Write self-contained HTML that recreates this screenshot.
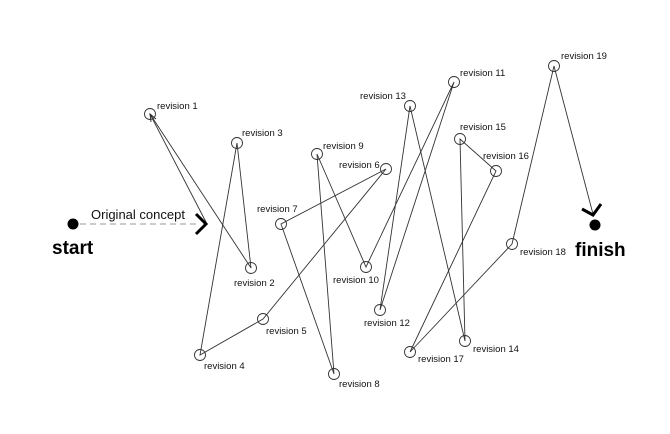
<!DOCTYPE html>
<html><head><style>
html,body{margin:0;padding:0;background:#fff;}
svg{display:block;font-family:"Liberation Sans",Arial,sans-serif;}
</style></head><body>
<svg width="670" height="434" viewBox="0 0 670 434">
<g stroke="#333" stroke-width="0.9" fill="none">
<polyline points="207,224 150,114"/>
<polyline points="150,114 251,268"/>
<polyline points="251,268 237,143 200,355 263,319 386,169 281,224 334,374 317,154 366,267 454,82 380,310 410,106 465,341 460,139 496,171 410,352 512,244 554,66 593,214"/>
<line x1="80" y1="224" x2="200" y2="224" stroke="#999" stroke-dasharray="6,4"/>
<polyline points="151,122 150,114 156,119" stroke="#222"/>
</g>
<g stroke="#333" stroke-width="0.9" fill="none">
<circle cx="150" cy="114" r="5.5"/><circle cx="251" cy="268" r="5.5"/><circle cx="237" cy="143" r="5.5"/>
<circle cx="200" cy="355" r="5.5"/><circle cx="263" cy="319" r="5.5"/><circle cx="386" cy="169" r="5.5"/>
<circle cx="281" cy="224" r="5.5"/><circle cx="334" cy="374" r="5.5"/><circle cx="317" cy="154" r="5.5"/>
<circle cx="366" cy="267" r="5.5"/><circle cx="454" cy="82" r="5.5"/><circle cx="380" cy="310" r="5.5"/>
<circle cx="410" cy="106" r="5.5"/><circle cx="465" cy="341" r="5.5"/><circle cx="460" cy="139" r="5.5"/>
<circle cx="496" cy="171" r="5.5"/><circle cx="410" cy="352" r="5.5"/><circle cx="512" cy="244" r="5.5"/>
<circle cx="554" cy="66" r="5.5"/>
</g>
<circle cx="73" cy="224" r="5.5" fill="#000"/>
<circle cx="595" cy="225" r="5.5" fill="#000"/>
<polyline points="196,214 206,224 196,234" stroke="#000" stroke-width="3" fill="none"/>
<polyline points="582,209 593,215 601,204" stroke="#000" stroke-width="3" fill="none"/>
<g font-size="9.5" fill="#111">
<text x="157" y="109">revision 1</text>
<text x="234" y="286">revision 2</text>
<text x="242" y="136">revision 3</text>
<text x="204" y="369">revision 4</text>
<text x="266" y="334">revision 5</text>
<text x="339" y="168">revision 6</text>
<text x="257" y="212">revision 7</text>
<text x="339" y="387">revision 8</text>
<text x="323" y="149">revision 9</text>
<text x="333" y="283">revision 10</text>
<text x="460" y="76">revision 11</text>
<text x="364" y="326">revision 12</text>
<text x="360" y="99">revision 13</text>
<text x="473" y="352">revision 14</text>
<text x="460" y="130">revision 15</text>
<text x="483" y="159">revision 16</text>
<text x="418" y="362">revision 17</text>
<text x="520" y="255">revision 18</text>
<text x="561" y="59">revision 19</text>
</g>
<text x="91" y="219" font-size="13" fill="#111">Original concept</text>
<text x="52" y="254" font-size="19" font-weight="bold" fill="#000">start</text>
<text x="575" y="256" font-size="19" font-weight="bold" fill="#000">finish</text>
</svg>
</body></html>
